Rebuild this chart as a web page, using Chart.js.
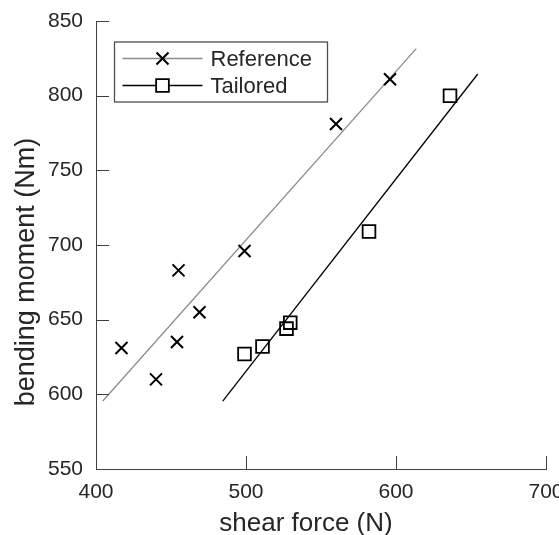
<!DOCTYPE html>
<html>
<head>
<meta charset="utf-8">
<script src="https://cdn.jsdelivr.net/npm/chart.js@4"></script>
<style>
  html, body { margin: 0; padding: 0; background: #fff; }
</style>
</head>
<body>
<canvas id="canvas" width="559" height="535"></canvas>
<script>
// measured points
let shearRef   = [417, 440, 454, 455, 469, 499, 560, 596];
let momentRef  = [631, 610, 635, 683, 655, 696, 781, 811];
let shearTail  = [499, 511, 527, 529.5, 582, 636];
let momentTail = [627, 632, 644, 648, 709, 800];

// end points of the two fitted lines
let refFitX  = [404.5, 613.5];
let refFitY  = [595.5, 831.5];
let tailFitX = [484.5, 654.5];
let tailFitY = [595.5, 814.5];

let seriesNames = ['Reference', 'Tailored'];
let xTitle = 'shear force (N)';
let yTitle = 'bending moment (Nm)';

let font = 'Liberation Sans, Arial, sans-serif';
let axisColor = '#404040';
let textColor = '#262626';
let refLineColor = '#8c8c8c';

let toXY = (xs, ys) => xs.map((x, i) => ({ x: x, y: ys[i] }));

// MATLAB style ticks pointing into the plot
let inwardTicks = {
  id: 'inwardTicks',
  afterDatasetsDraw(chart) {
    let { ctx, chartArea, scales } = chart;
    let len = 13;
    ctx.save();
    ctx.strokeStyle = axisColor;
    ctx.lineWidth = 1;
    ctx.beginPath();
    scales.x.ticks.forEach((t, i) => {
      let px = Math.round(scales.x.getPixelForTick(i)) + 0.5;
      ctx.moveTo(px, chartArea.bottom);
      ctx.lineTo(px, chartArea.bottom - len);
    });
    scales.y.ticks.forEach((t, i) => {
      let py = Math.round(scales.y.getPixelForTick(i)) + 0.5;
      ctx.moveTo(chartArea.left, py);
      ctx.lineTo(chartArea.left + len, py);
    });
    ctx.stroke();
    ctx.restore();
  }
};

// axis titles, placed like the original figure
let axisTitles = {
  id: 'axisTitles',
  afterDraw(chart) {
    let { ctx, chartArea } = chart;
    ctx.save();
    ctx.fillStyle = textColor;
    ctx.font = '26px ' + font;
    ctx.textAlign = 'center';
    ctx.textBaseline = 'middle';
    ctx.fillText(xTitle, chartArea.left + 210, chartArea.bottom + 55);
    ctx.translate(chartArea.left - 69, chartArea.top + 251);
    ctx.rotate(-Math.PI / 2);
    ctx.font = '27px ' + font;
    ctx.fillText(yTitle, 0, 0);
    ctx.restore();
  }
};

// boxed legend with line + marker samples
let boxLegend = {
  id: 'boxLegend',
  afterDraw(chart) {
    let { ctx, chartArea } = chart;
    let left = chartArea.left + 18.5;
    let top = chartArea.top + 21;
    ctx.save();
    ctx.fillStyle = '#fff';
    ctx.fillRect(left, top, 213, 60);
    ctx.strokeStyle = '#4d4d4d';
    ctx.lineWidth = 1.3;
    ctx.strokeRect(left, top, 213, 60);

    let rows = [
      { line: chart.data.datasets[2], mark: chart.data.datasets[0] },
      { line: chart.data.datasets[3], mark: chart.data.datasets[1] }
    ];
    rows.forEach((r, i) => {
      let y = top + 16.5 + i * 27;
      let mx = left + 48;
      let s = Math.SQRT1_2 * r.mark.pointRadius;
      ctx.strokeStyle = r.line.borderColor;
      ctx.lineWidth = r.line.borderWidth;
      ctx.beginPath();
      ctx.moveTo(left + 8, y);
      ctx.lineTo(left + 88, y);
      ctx.stroke();

      ctx.strokeStyle = r.mark.borderColor;
      ctx.lineWidth = r.mark.borderWidth;
      ctx.fillStyle = '#fff';
      ctx.beginPath();
      if (r.mark.pointStyle === 'rect') {
        ctx.rect(mx - s, y - s, 2 * s, 2 * s);
        ctx.fill();
      } else {
        ctx.moveTo(mx - s, y - s); ctx.lineTo(mx + s, y + s);
        ctx.moveTo(mx - s, y + s); ctx.lineTo(mx + s, y - s);
      }
      ctx.stroke();

      ctx.fillStyle = textColor;
      ctx.font = '22px ' + font;
      ctx.textAlign = 'left';
      ctx.textBaseline = 'middle';
      ctx.fillText(r.mark.label, left + 96, y + 1);
    });
    ctx.restore();
  }
};

let options = {
  type: 'scatter',
  data: {
    datasets: [{
      label: seriesNames[0],
      data: toXY(shearRef, momentRef),
      pointStyle: 'crossRot',
      pointRadius: 8.5,
      borderWidth: 2,
      borderColor: '#000',
      backgroundColor: '#000'
    }, {
      label: seriesNames[1],
      data: toXY(shearTail, momentTail),
      pointStyle: 'rect',
      pointRadius: 9,
      borderWidth: 1.8,
      borderColor: '#000',
      backgroundColor: 'rgba(0,0,0,0)'
    }, {
      label: seriesNames[0] + ' fit',
      data: toXY(refFitX, refFitY),
      showLine: true,
      pointRadius: 0,
      borderColor: refLineColor,
      borderWidth: 1.3
    }, {
      label: seriesNames[1] + ' fit',
      data: toXY(tailFitX, tailFitY),
      showLine: true,
      pointRadius: 0,
      borderColor: '#000',
      borderWidth: 1.3
    }]
  },
  options: {
    responsive: false,
    animation: false,
    devicePixelRatio: 1,
    layout: { padding: { left: 0, top: 21, right: 13, bottom: 0 } },
    plugins: {
      legend: { display: false },
      tooltip: { enabled: false }
    },
    scales: {
      x: {
        type: 'linear',
        min: 400,
        max: 700,
        grid: { display: false, drawTicks: false },
        border: { display: true, color: axisColor, width: 1 },
        ticks: {
          stepSize: 100,
          padding: 11,
          color: textColor,
          font: { family: font, size: 21 },
          maxRotation: 0
        },
        afterFit(scale) {
          scale.height = 66;
          scale.paddingLeft = 0;
          scale.paddingRight = 0;
        }
      },
      y: {
        type: 'linear',
        min: 550,
        max: 850,
        grid: { display: false, drawTicks: false },
        border: { display: true, color: axisColor, width: 1 },
        ticks: {
          stepSize: 50,
          padding: 13,
          color: textColor,
          font: { family: font, size: 21 }
        },
        afterFit(scale) {
          scale.width = 96;
          scale.paddingTop = 0;
          scale.paddingBottom = 0;
        }
      }
    }
  },
  plugins: [inwardTicks, axisTitles, boxLegend]
};

let chart = new Chart(document.getElementById('canvas'), options);
</script>
</body>
</html>
